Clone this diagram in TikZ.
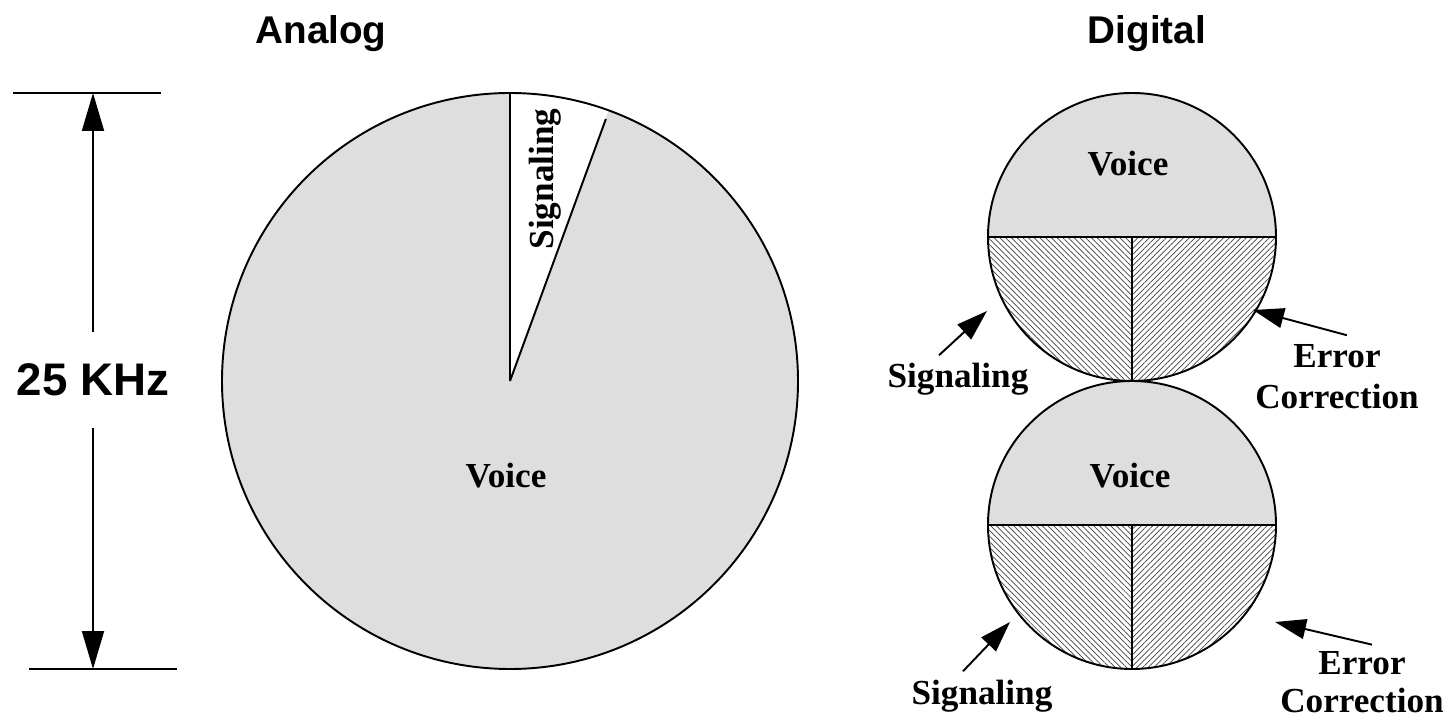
\documentclass[tikz,border=0pt]{standalone}
\usepackage{fontspec}
\setmainfont{Liberation Serif}
\newfontfamily\headfont{Liberation Sans}
\usetikzlibrary{arrows.meta,patterns.meta}

\tikzset{
  outline/.style={line width=1.1pt},
  voicefill/.style={fill=black!13},
  hatchleft/.style={pattern={Lines[angle=-45,distance=2.3pt,line width=0.4pt]},pattern color=black!75},
  hatchright/.style={pattern={Lines[angle=45,distance=2.3pt,line width=0.4pt]},pattern color=black!75},
  heading/.style={font=\headfont\bfseries\fontsize{22}{26}\selectfont, anchor=base},
  piece/.style={font=\bfseries\fontsize{20}{23}\selectfont, inner sep=0pt},
  pointer/.style={outline, -{Triangle[length=0.62cm,width=0.4cm]}, shorten >=0pt},
  dimarrow/.style={outline, -{Triangle[length=0.76cm,width=0.44cm]}}
}

\begin{document}
\begin{tikzpicture}
\useasboundingbox (0,0) rectangle (29,14.48);

% titles
\node[heading] (analog) at (6.42,13.6) {Analog};
\node[heading] (digital) at (22.94,13.6) {Digital};

% bandwidth dimension
\draw[outline] (0.26,12.62) -- (3.22,12.62);
\draw[outline] (0.58,1.10) -- (3.54,1.10);
\coordinate (toptick) at (1.86,12.62);
\coordinate (bottick) at (1.86,1.10);
\node[font=\headfont\bfseries\fontsize{26}{30}\selectfont, inner xsep=0pt, inner ysep=0.62cm] (khz) at (1.86,6.88) {25 KHz};
\draw[dimarrow] (khz.north) -- (toptick);
\draw[dimarrow] (khz.south) -- (bottick);

% analog pie
\fill[voicefill] (10.2,6.86) circle (5.76);
\fill[white] (10.2,6.86) -- ++(70:5.76) arc (70:90:5.76) -- cycle;
\draw[outline] (10.2,6.86) -- ++(90:5.76);
\draw[outline] (10.2,6.86) -- ++(69.9:5.58);
\draw[outline] (10.2,6.86) circle (5.76);
\node[piece, rotate=90] (sigana) at (10.9,10.9) {Signaling};
\node[piece, anchor=base] (voiceana) at (10.12,4.74) {Voice};

% digital pies
\foreach \cy/\nm in {9.74/top, 3.98/bot}{
  \fill[voicefill] (22.64,\cy) ++(0:2.88) arc (0:180:2.88) -- cycle;
  \fill[hatchleft] (22.64,\cy) -- ++(180:2.88) arc (180:270:2.88) -- cycle;
  \fill[hatchright] (22.64,\cy) -- ++(270:2.88) arc (270:360:2.88) -- cycle;
  \draw[outline] (22.64,\cy) circle (2.88);
  \draw[outline] (19.76,\cy) -- (25.52,\cy);
  \draw[outline] (22.64,\cy) -- ++(0,-2.88);
  \node[circle, minimum size=5.76cm, inner sep=0pt] (dig\nm) at (22.64,\cy) {};
}
\node[piece, anchor=base] (voicetop) at (22.56,10.96) {Voice};
\node[piece, anchor=base] (voicebot) at (22.6,4.74) {Voice};

% labels round the digital pies
\node[piece, anchor=base] (sigtop) at (19.16,6.72) {Signaling};
\node[piece, align=center] (errtop) at (26.74,6.95) {Error\\Correction};
\node[piece, anchor=base] (sigbot) at (19.64,0.40) {Signaling};
\node[piece, align=center, font=\bfseries\fontsize{20}{22}\selectfont] (errbot) at (27.24,0.84) {Error\\Correction};

\coordinate (sigtiptop) at (19.74,8.26);
\coordinate (errtiptop) at (25.06,8.28);
\coordinate (sigtipbot) at (20.20,2.04);
\coordinate (errtipbot) at (25.50,2.04);

\draw[pointer] ([shift={(-0.38,0.16)}]sigtop.north) -- (sigtiptop);
\draw[pointer] ([shift={(0.2,0.18)}]errtop.north) -- (errtiptop);
\draw[pointer] ([shift={(-0.38,0.16)}]sigbot.north) -- (sigtipbot);
\draw[pointer] ([shift={(0.2,0.12)}]errbot.north) -- (errtipbot);
\end{tikzpicture}
\end{document}
